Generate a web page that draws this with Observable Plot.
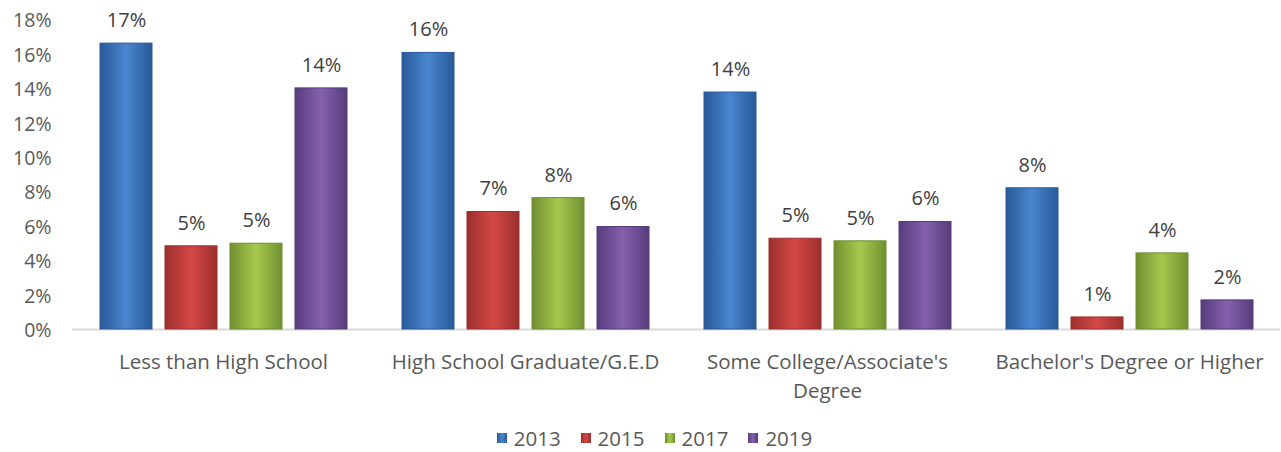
<!DOCTYPE html>
<html>
<head>
<meta charset="utf-8">
<script src="https://cdn.jsdelivr.net/npm/d3@7"></script>
<script src="https://cdn.jsdelivr.net/npm/@observablehq/plot@0.6"></script>
<style>
  html, body { margin: 0; padding: 0; background: #fff; }
  body { width: 1281px; height: 452px; overflow: hidden; font-family: "Open Sans", sans-serif; }
  #legend { display: flex; justify-content: center; align-items: center; height: 28px; padding-top: 14px; margin-left: 28px; font-size: 20.5px; color: #595959; }
  #legend .item { display: flex; align-items: center; margin: 0 10px; }
  #legend .sw { width: 10px; height: 10px; margin-right: 7px; }
</style>
</head>
<body>
<div id="chart"></div>
<div id="legend"></div>
<script>
const categories = ["Less than High School", "High School Graduate/G.E.D", "Some College/Associate's Degree", "Bachelor's Degree or Higher"];
const categoryLabels = ["Less than High School", "High School Graduate/G.E.D", "Some College/Associate's\nDegree", "Bachelor's Degree or Higher"];
const years = ["2013", "2015", "2017", "2019"];
const values2013 = [0.166, 0.1606, 0.1376, 0.082];
const values2015 = [0.0483, 0.0682, 0.0527, 0.0070];
const values2017 = [0.0498, 0.0763, 0.0512, 0.0442];
const values2019 = [0.140, 0.0595, 0.0624, 0.0169];
const yTicks = [0, 0.02, 0.04, 0.06, 0.08, 0.10, 0.12, 0.14, 0.16, 0.18];
const seriesColors = {
  "2013": ["#2a5a97", "#4a86d0", "#2e62a3"],
  "2015": ["#9a2f2c", "#d44845", "#a83532"],
  "2017": ["#6f8e30", "#a5c94e", "#7b9c36"],
  "2019": ["#573c7a", "#8461ad", "#604486"]
};

const seriesValues = [values2013, values2015, values2017, values2019];
const data = [];
years.forEach((yr, j) => categories.forEach((c, i) => data.push({category: c, year: yr, value: seriesValues[j][i]})));

const pct = d3.format(".0%");
const fontFam = "'Open Sans', sans-serif";

const chart = Plot.plot({
  width: 1281,
  height: 410,
  marginLeft: 71,
  marginRight: 0,
  marginTop: 19,
  marginBottom: 81,
  style: {fontFamily: fontFam, background: "#fff"},
  fx: {domain: categories, padding: 0, axis: null},
  x: {domain: years, paddingInner: 0.2, paddingOuter: 0.39, axis: null},
  y: {domain: [0, 0.18], axis: null},
  color: {domain: years, range: years.map(y => `url(#grad${y})`)},
  marks: [
    Plot.axisY({ticks: yTicks, tickFormat: pct, tickSize: 0, tickPadding: 21, fontSize: 19.5, fill: "#595959", dy: 1.5, label: null}),
    Plot.ruleY([0], {stroke: "#d9d9d9", strokeWidth: 2}),
    Plot.barY(data, {fx: "category", x: "year", y: "value", fill: "year", stroke: d => seriesColors[d.year][0], strokeWidth: 1}),
    Plot.text(data, {fx: "category", x: "year", y: "value", text: d => pct(d.value), dy: -23, fontSize: 20, fill: "#404040"}),
    Plot.text(categories, {fx: d => d, text: d => categoryLabels[categories.indexOf(d)], frameAnchor: "bottom", lineAnchor: "top", dy: 19, fontSize: 20.5, fill: "#595959", lineHeight: 1.42})
  ]
});

const ns = "http://www.w3.org/2000/svg";
const defs = document.createElementNS(ns, "defs");
for (const yr of years) {
  const [dark, light, mid] = seriesColors[yr];
  const g = document.createElementNS(ns, "linearGradient");
  g.setAttribute("id", `grad${yr}`);
  g.setAttribute("x1", "0"); g.setAttribute("x2", "1"); g.setAttribute("y1", "0"); g.setAttribute("y2", "0");
  [[0, dark], [0.1, mid], [0.5, light], [0.9, mid], [1, dark]].forEach(([o, c]) => {
    const s = document.createElementNS(ns, "stop");
    s.setAttribute("offset", o); s.setAttribute("stop-color", c);
    g.appendChild(s);
  });
  defs.appendChild(g);
}
chart.insertBefore(defs, chart.firstChild);
document.getElementById("chart").appendChild(chart);

const legend = document.getElementById("legend");
for (const yr of years) {
  const item = document.createElement("div");
  item.className = "item";
  const sw = document.createElement("span");
  sw.className = "sw";
  sw.style.background = `linear-gradient(to right, ${seriesColors[yr][0]}, ${seriesColors[yr][1]}, ${seriesColors[yr][0]})`;
  const t = document.createElement("span");
  t.textContent = yr;
  item.appendChild(sw); item.appendChild(t);
  legend.appendChild(item);
}
</script>
</body>
</html>
